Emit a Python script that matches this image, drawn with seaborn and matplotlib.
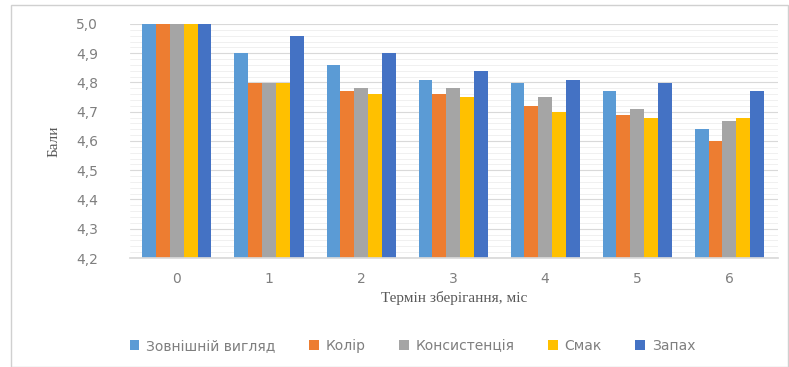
import matplotlib
matplotlib.use("Agg")
import matplotlib.pyplot as plt
from matplotlib.patches import Rectangle
from matplotlib.ticker import MultipleLocator, FuncFormatter
import seaborn as sns
import pandas as pd

months = ["0", "1", "2", "3", "4", "5", "6"]
series_names = ["Зовнішній вигляд", "Колір", "Консистенція", "Смак", "Запах"]
appearance = [5.00, 4.90, 4.86, 4.81, 4.80, 4.77, 4.64]
colour = [5.00, 4.80, 4.77, 4.76, 4.72, 4.69, 4.60]
consistency = [5.00, 4.80, 4.78, 4.78, 4.75, 4.71, 4.67]
taste = [5.00, 4.80, 4.76, 4.75, 4.70, 4.68, 4.68]
smell = [5.00, 4.96, 4.90, 4.84, 4.81, 4.80, 4.77]
palette = ["#5B9BD5", "#ED7D31", "#A5A5A5", "#FFC000", "#4472C4"]

rows = []
for name, vals in zip(series_names, [appearance, colour, consistency, taste, smell]):
    for m, v in zip(months, vals):
        rows.append({"month": m, "score": v, "indicator": name})
df = pd.DataFrame(rows)

sns.set_theme(style="white")
plt.rcParams["font.family"] = ["DejaVu Sans"]

fig = plt.figure(figsize=(7.89, 3.67), dpi=100)
fig.patch.set_facecolor("white")
fig.add_artist(Rectangle((11 / 789, 0.0), 777 / 789, 1 - 5 / 367, transform=fig.transFigure,
                         facecolor="none", edgecolor="#d0d0d0", linewidth=1.0))

ax = fig.add_axes([130 / 789, 1 - 258 / 367, 648 / 789, 234 / 367])
sns.barplot(data=df, x="month", y="score", hue="indicator", hue_order=series_names,
            palette=palette, width=0.75, gap=0, saturation=1, ax=ax, legend=True,
            edgecolor="none")

ax.set_ylim(4.2, 5.0)
ax.set_xlim(-0.51, 6.53)
ax.yaxis.set_major_locator(MultipleLocator(0.1))
ax.yaxis.set_minor_locator(MultipleLocator(0.02))
ax.yaxis.set_major_formatter(FuncFormatter(lambda v, p: f"{v:.1f}".replace(".", ",")))
ax.set_axisbelow(True)
ax.grid(axis="y", which="major", color="#d9d9d9", linewidth=0.8)
ax.grid(axis="y", which="minor", color="#eeeeee", linewidth=0.6)
for s in ["top", "right", "left"]:
    ax.spines[s].set_visible(False)
ax.spines["bottom"].set_color("#d9d9d9")
ax.tick_params(axis="both", which="both", length=0, colors="#7f7f7f", labelsize=10)
ax.tick_params(axis="y", pad=23)
ax.tick_params(axis="x", pad=10)

ax.set_xlabel("Термін зберігання, міс", family=["Liberation Serif"], fontsize=11,
              color="#595959", labelpad=4)
ax.set_ylabel("Бали", family=["Liberation Serif"], fontsize=11, color="#595959", labelpad=11)

handles, labels = ax.get_legend_handles_labels()
ax.get_legend().remove()
fig.legend(handles, labels, loc="center", bbox_to_anchor=(0.523, 1 - 346 / 367), ncol=5,
           frameon=False, fontsize=10, handlelength=0.7, handleheight=0.7,
           handletextpad=0.5, columnspacing=2.4, labelcolor="#7f7f7f")

fig.savefig("out.png", dpi=100)
